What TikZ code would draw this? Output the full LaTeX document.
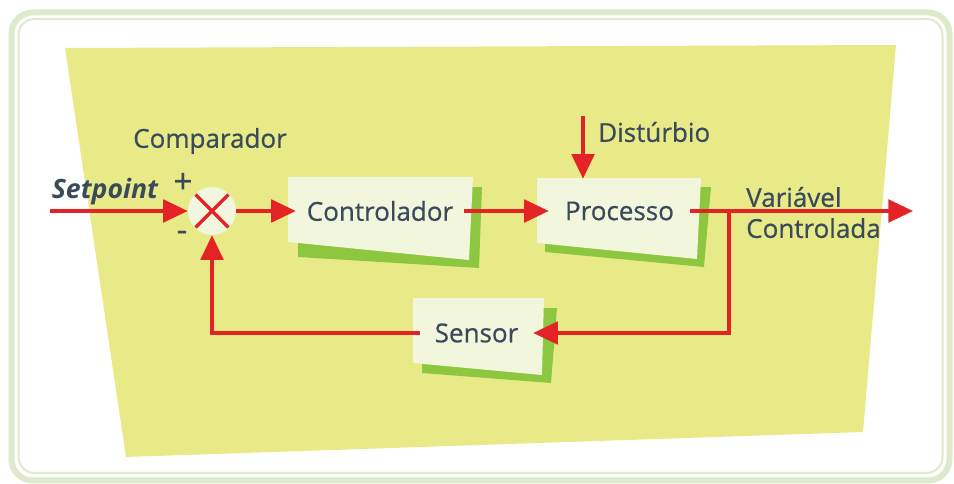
\documentclass[tikz,border=0pt]{standalone}
\usepackage{fontspec}
\setmainfont{Open Sans}
\newfontfamily\labelfont{Open Sans}[FakeBold=0.6]
\usetikzlibrary{arrows.meta}

\definecolor{framegreen}{RGB}{222,234,203}
\definecolor{paper}{RGB}{232,234,136}
\definecolor{boxfill}{RGB}{241,246,221}
\definecolor{boxshadow}{RGB}{141,198,63}
\definecolor{signal}{RGB}{228,35,38}
\definecolor{ink}{RGB}{58,74,91}

\tikzset{
  label text/.style={text=ink, font=\labelfont\fontsize{19.5}{23.25}\selectfont, inner sep=0pt},
  sign text/.style={text=ink, font=\labelfont\fontsize{25}{25}\selectfont, inner sep=0pt},
  block/.style={label text, minimum height=48pt},
  signal line/.style={draw=signal, line width=2.6pt,
    -{Triangle[length=18.5pt, width=17pt]}},
  shadow shape/.style={fill=boxshadow},
  face shape/.style={fill=boxfill},
}

\begin{document}
\begin{tikzpicture}[x=0.75pt, y=-0.75pt]
\useasboundingbox (0,0) rectangle (954,484);

% double rounded frame
\draw[framegreen, line width=4.5pt, rounded corners=16pt] (11.5,12.5) rectangle (949.5,480.5);
\draw[framegreen, line width=1.5pt, rounded corners=12pt] (18.5,19) rectangle (942.5,473);

% tilted sheet behind the diagram
\fill[paper] (65,48) -- (896,45) -- (863,432) -- (126,457) -- cycle;

% blocks: green shadow, then light face
\fill[shadow shape] (298,190) -- (482,187) -- (479,268) -- (298,257) -- cycle;
\fill[face shape]   (288,177) -- (473,177) -- (469,260) -- (288,242) -- cycle;

\fill[shadow shape] (545,190) -- (711,187) -- (704,267) -- (545,252) -- cycle;
\fill[face shape]   (537,178) -- (701,178) -- (697,259) -- (537,243) -- cycle;

\fill[shadow shape] (422,310) -- (557,308) -- (551,383) -- (422,373) -- cycle;
\fill[face shape]   (413,298) -- (544,298) -- (542,375) -- (413,363) -- cycle;

% block labels (their width sets where the signals meet them)
\node[block, minimum width=126pt] (ctrl) at (380,211) {Controlador};
\node[block, minimum width=105.75pt] (proc) at (619.5,211) {Processo};
\node[block, minimum width=84.75pt] (sens) at (476.5,333) {Sensor};

% summing junction
\node[circle, fill=boxfill, minimum size=36pt, inner sep=0pt] (cmp) at (212,211) {};
\draw[signal, line width=2.6pt, shorten <=0.8pt, shorten >=0.8pt] (cmp.north west) -- (cmp.south east);
\draw[signal, line width=2.6pt, shorten <=0.8pt, shorten >=0.8pt] (cmp.north east) -- (cmp.south west);

% free ends of the signals
\coordinate (sp) at (50,211);
\coordinate (out) at (913,211);
\coordinate (tap) at (729,211);
\coordinate (dist) at (583,116);

% signals
\draw[signal line] (sp) -- (cmp.west);
\draw[signal line] (cmp.east) -- (ctrl.west);
\draw[signal line] (ctrl.east) -- (proc.west);
\draw[signal line] (proc.east) -- (out);
\draw[signal line] (tap) |- (sens.east);
\draw[signal line] (sens.west) -| (cmp.south);
\draw[signal line] (dist) -- (dist |- proc.north);

% texts
\node[label text] (cmplabel) at (210,141) {Comparador};
\node[sign text] (plus) at (183,183) {+};
\node[sign text] (minus) at (182,236) {-};
\node[label text, font=\fontsize{20}{23.25}\selectfont\bfseries\itshape] (setp) at (105,192) {Setpoint};
\node[label text, anchor=west] (distlabel) at (598,132) {Distúrbio};
\node[label text, anchor=west, align=left] (outlabel) at (746,212.5) {Variável\\Controlada};
\end{tikzpicture}
\end{document}
